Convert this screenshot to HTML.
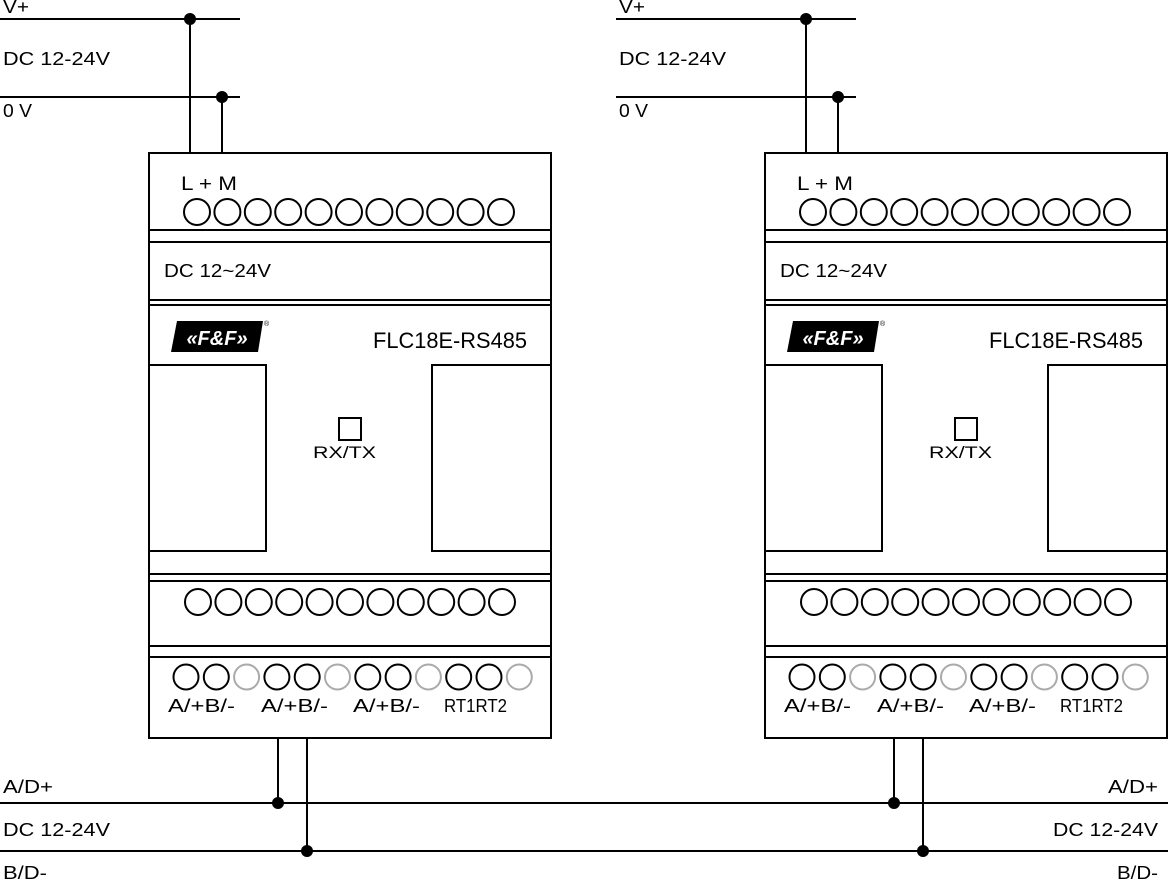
<!DOCTYPE html>
<html><head><meta charset="utf-8"><style>
html,body{margin:0;padding:0;background:#fff;}
svg{display:block;}
text{font-family:"Liberation Sans",sans-serif;fill:#000;}
</style></head><body>
<svg width="1171" height="882" viewBox="0 0 1171 882" xmlns="http://www.w3.org/2000/svg">
<defs>
<g id="dev">
  <g fill="none" stroke="#000" stroke-width="2">
    <line x1="190" y1="19" x2="190" y2="153"/>
    <line x1="222" y1="97" x2="222" y2="153"/>
    <line x1="278" y1="738" x2="278" y2="803"/>
    <line x1="307" y1="738" x2="307" y2="851"/>
    <line x1="0" y1="19" x2="240" y2="19"/>
    <line x1="0" y1="97" x2="240" y2="97"/>
    <rect x="149" y="153" width="402" height="585"/>
    <line x1="149" y1="230" x2="551" y2="230"/>
    <line x1="149" y1="242" x2="551" y2="242"/>
    <line x1="149" y1="300" x2="551" y2="300"/>
    <line x1="149" y1="305" x2="551" y2="305"/>
    <line x1="149" y1="574" x2="551" y2="574"/>
    <line x1="149" y1="581" x2="551" y2="581"/>
    <line x1="149" y1="646" x2="551" y2="646"/>
    <line x1="149" y1="657" x2="551" y2="657"/>
    <rect x="149" y="365" width="117" height="186"/>
    <rect x="432" y="365" width="119" height="186"/>
    <rect x="339" y="418" width="22" height="22"/>
    <g>
      <circle cx="197" cy="212" r="13"/><circle cx="227.4" cy="212" r="13"/><circle cx="257.8" cy="212" r="13"/><circle cx="288.2" cy="212" r="13"/><circle cx="318.6" cy="212" r="13"/><circle cx="349" cy="212" r="13"/><circle cx="379.4" cy="212" r="13"/><circle cx="409.8" cy="212" r="13"/><circle cx="440.2" cy="212" r="13"/><circle cx="470.6" cy="212" r="13"/><circle cx="501" cy="212" r="13"/>
      <circle cx="198" cy="602" r="13"/><circle cx="228.4" cy="602" r="13"/><circle cx="258.8" cy="602" r="13"/><circle cx="289.2" cy="602" r="13"/><circle cx="319.6" cy="602" r="13"/><circle cx="350" cy="602" r="13"/><circle cx="380.4" cy="602" r="13"/><circle cx="410.8" cy="602" r="13"/><circle cx="441.2" cy="602" r="13"/><circle cx="471.6" cy="602" r="13"/><circle cx="502" cy="602" r="13"/>
      <circle cx="186" cy="677" r="12.5"/><circle cx="216.3" cy="677" r="12.5"/>
      <circle cx="276.9" cy="677" r="12.5"/><circle cx="307.2" cy="677" r="12.5"/>
      <circle cx="367.8" cy="677" r="12.5"/><circle cx="398.1" cy="677" r="12.5"/>
      <circle cx="458.7" cy="677" r="12.5"/><circle cx="489" cy="677" r="12.5"/>
    </g>
  </g>
  <g fill="none" stroke="#aaa" stroke-width="2">
    <circle cx="246.6" cy="677" r="12.5"/><circle cx="337.5" cy="677" r="12.5"/><circle cx="428.4" cy="677" r="12.5"/><circle cx="519.3" cy="677" r="12.5"/>
  </g>
  <circle cx="190" cy="19" r="6"/><circle cx="222" cy="97" r="6"/>
  <circle cx="278" cy="803" r="6"/><circle cx="307" cy="851" r="6"/>
  <polygon points="177,321 263,321 258,352 171,352"/>
  <text x="217" y="345" font-size="20" font-weight="bold" font-style="italic" text-anchor="middle" style="fill:#fff">«F&amp;F»</text>
  <text x="264" y="326" font-size="7">®</text>
  <text x="3" y="13" font-size="18" textLength="26" lengthAdjust="spacingAndGlyphs">V+</text>
  <text x="3" y="65" font-size="18" textLength="107" lengthAdjust="spacingAndGlyphs">DC  12-24V</text>
  <text x="3" y="117" font-size="18" textLength="29" lengthAdjust="spacingAndGlyphs">0 V</text>
  <text x="181" y="190" font-size="19" textLength="56" lengthAdjust="spacingAndGlyphs">L + M</text>
  <text x="164" y="277" font-size="18" textLength="107" lengthAdjust="spacingAndGlyphs">DC  12~24V</text>
  <text x="373" y="348" font-size="22" textLength="154" lengthAdjust="spacingAndGlyphs">FLC18E-RS485</text>
  <text x="313" y="458" font-size="17" textLength="63" lengthAdjust="spacingAndGlyphs">RX/TX</text>
  <g font-size="18">
    <text x="168" y="712" textLength="67" lengthAdjust="spacingAndGlyphs">A/+B/-</text>
    <text x="261" y="712" textLength="67" lengthAdjust="spacingAndGlyphs">A/+B/-</text>
    <text x="353" y="712" textLength="67" lengthAdjust="spacingAndGlyphs">A/+B/-</text>
    <text x="444" y="712" textLength="63" lengthAdjust="spacingAndGlyphs">RT1RT2</text>
  </g>
</g>
</defs>
<g stroke="#000" stroke-width="2">
  <line x1="0" y1="803" x2="1168" y2="803"/>
  <line x1="0" y1="851" x2="1168" y2="851"/>
</g>
<use href="#dev"/>
<use href="#dev" transform="translate(616,0)"/>
<g font-size="18">
<text x="3" y="793" textLength="50" lengthAdjust="spacingAndGlyphs">A/D+</text>
<text x="3" y="836" textLength="107" lengthAdjust="spacingAndGlyphs">DC  12-24V</text>
<text x="3" y="879" textLength="44" lengthAdjust="spacingAndGlyphs">B/D-</text>
<text x="1108" y="793" textLength="50" lengthAdjust="spacingAndGlyphs">A/D+</text>
<text x="1053" y="836" textLength="105" lengthAdjust="spacingAndGlyphs">DC  12-24V</text>
<text x="1117" y="879" textLength="41" lengthAdjust="spacingAndGlyphs">B/D-</text>
</g>
</svg>
</body></html>
